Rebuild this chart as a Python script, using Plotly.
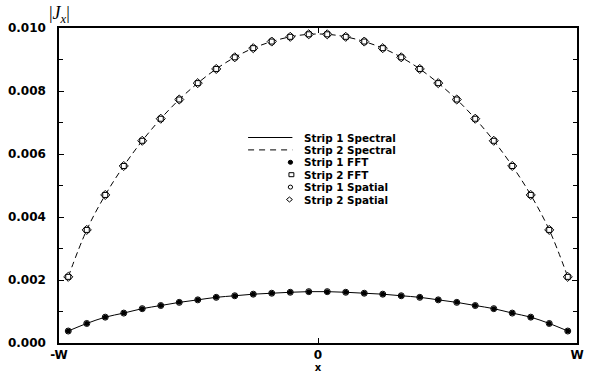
import plotly.graph_objects as go

# positions along the strip, in units of W
x_pos = [-0.9643, -0.8929, -0.8214, -0.7500, -0.6786, -0.6071, -0.5357,
         -0.4643, -0.3929, -0.3214, -0.2500, -0.1786, -0.1071, -0.0357,
         0.0357, 0.1071, 0.1786, 0.2500, 0.3214, 0.3929, 0.4643,
         0.5357, 0.6071, 0.6786, 0.7500, 0.8214, 0.8929, 0.9643]

strip1_spectral = [0.00038, 0.00062, 0.00082, 0.00095, 0.00109, 0.00119, 0.00129,
                   0.00137, 0.00145, 0.00150, 0.00155, 0.00158, 0.00161, 0.00163,
                   0.00163, 0.00161, 0.00158, 0.00155, 0.00150, 0.00145, 0.00137,
                   0.00129, 0.00119, 0.00109, 0.00095, 0.00082, 0.00062, 0.00038]

strip2_spectral = [0.00210, 0.00359, 0.00470, 0.00562, 0.00642, 0.00712, 0.00773,
                   0.00825, 0.00870, 0.00907, 0.00936, 0.00957, 0.00972, 0.00980,
                   0.00980, 0.00972, 0.00957, 0.00936, 0.00907, 0.00870, 0.00825,
                   0.00773, 0.00712, 0.00642, 0.00562, 0.00470, 0.00359, 0.00210]

strip1_fft = list(strip1_spectral)
strip2_fft = list(strip2_spectral)
strip1_spatial = list(strip1_spectral)
strip2_spatial = list(strip2_spectral)

x_tickvals = [-1, 0, 1]
x_ticktext = ["-W", "0", "W"]

legend_labels = ["Strip 1 Spectral", "Strip 2 Spectral", "Strip 1 FFT",
                 "Strip 2 FFT", "Strip 1 Spatial", "Strip 2 Spatial"]

FONT = "DejaVu Sans"

fig = go.Figure()

fig.add_trace(go.Scatter(x=x_pos, y=strip1_spectral, mode="lines",
                         line=dict(color="black", width=1, shape="spline"),
                         name=legend_labels[0]))
fig.add_trace(go.Scatter(x=x_pos, y=strip2_spectral, mode="lines",
                         line=dict(color="black", width=1, dash="6px,4px", shape="spline"),
                         name=legend_labels[1]))
fig.add_trace(go.Scatter(x=x_pos, y=strip1_fft, mode="markers",
                         marker=dict(symbol="circle", size=5, color="black"),
                         name=legend_labels[2]))
fig.add_trace(go.Scatter(x=x_pos, y=strip1_spatial, mode="markers",
                         marker=dict(symbol="circle-open", size=6, color="black",
                                     line=dict(width=1, color="black")),
                         name=legend_labels[4]))
fig.add_trace(go.Scatter(x=x_pos, y=strip2_spatial, mode="markers",
                         marker=dict(symbol="diamond", size=7, color="white",
                                     line=dict(width=1, color="black")),
                         name=legend_labels[5]))
fig.add_trace(go.Scatter(x=x_pos, y=strip2_fft, mode="markers",
                         marker=dict(symbol="square-open", size=5, color="black",
                                     line=dict(width=1, color="black")),
                         name=legend_labels[3]))

fig.update_layout(
    width=592, height=388,
    margin=dict(l=58, r=8, t=28, b=45),
    plot_bgcolor="white", paper_bgcolor="white",
    showlegend=False,
    font=dict(family=FONT, color="black", size=12),
)

fig.update_xaxes(
    range=[-1, 1], tickmode="array", tickvals=x_tickvals, ticktext=x_ticktext,
    showgrid=False, zeroline=False,
    showline=True, linecolor="black", linewidth=1.5, mirror="ticks",
    ticks="inside", ticklen=5, tickwidth=1, tickcolor="black",
    tickfont=dict(family=FONT, size=12, weight="bold"),
    title=dict(text="x", font=dict(family=FONT, size=10, weight="bold"), standoff=0),
)

fig.update_yaxes(
    range=[0, 0.010], tickmode="linear", tick0=0, dtick=0.002, tickformat=".3f",
    showgrid=False, zeroline=False,
    showline=True, linecolor="black", linewidth=1.5, mirror="ticks",
    ticks="inside", ticklen=5, tickwidth=1, tickcolor="black",
    ticklabelstandoff=9,
    tickfont=dict(family=FONT, size=12, weight="bold"),
    minor=dict(dtick=0.001, ticks="inside", ticklen=4, tickcolor="black", tickwidth=1),
)

# y-axis label
fig.add_annotation(text="|<i>J</i><sub><i>x</i></sub>|", xref="paper", yref="paper",
                   x=0.0, y=1.0, xanchor="center", yanchor="bottom", yshift=0,
                   showarrow=False, font=dict(family="Liberation Serif", size=18))

# manual compact legend (paper coords)
W_PX, H_PX = 526.0, 315.0
def px(xp):
    return (xp - 58) / W_PX
def py(yp):
    return (343 - yp) / H_PX

rows = [137.5, 149.9, 162.3, 174.7, 187.1, 199.5]
for lab, r in zip(legend_labels, rows):
    fig.add_annotation(text=lab, xref="paper", yref="paper", x=px(305), y=py(r),
                       xanchor="left", yanchor="middle", showarrow=False,
                       font=dict(family=FONT, size=10.4, weight="bold"))

fig.add_shape(type="line", xref="paper", yref="paper", x0=px(250), x1=px(295),
              y0=py(rows[0]), y1=py(rows[0]), line=dict(color="black", width=1))
fig.add_shape(type="line", xref="paper", yref="paper", x0=px(250), x1=px(295),
              y0=py(rows[1]), y1=py(rows[1]), line=dict(color="black", width=1, dash="6px,5px"))

def box(cx, cy, rx, ry):
    return dict(x0=px(cx - rx), x1=px(cx + rx), y0=py(cy + ry), y1=py(cy - ry))

fig.add_shape(type="circle", xref="paper", yref="paper", **box(293, rows[2], 2.2, 2.0),
              fillcolor="black", line=dict(color="black", width=1))
fig.add_shape(type="rect", xref="paper", yref="paper", **box(294, rows[3], 2.5, 2.0),
              fillcolor="white", line=dict(color="black", width=1))
fig.add_shape(type="circle", xref="paper", yref="paper", **box(293, rows[4], 2.2, 2.0),
              fillcolor="white", line=dict(color="black", width=1))
cx, cy = 292, rows[5]
fig.add_shape(type="path", xref="paper", yref="paper",
              path=(f"M {px(cx-3)} {py(cy)} L {px(cx)} {py(cy-2.5)} "
                    f"L {px(cx+3)} {py(cy)} L {px(cx)} {py(cy+2.5)} Z"),
              fillcolor="white", line=dict(color="black", width=1))

fig.write_html("out.html")
